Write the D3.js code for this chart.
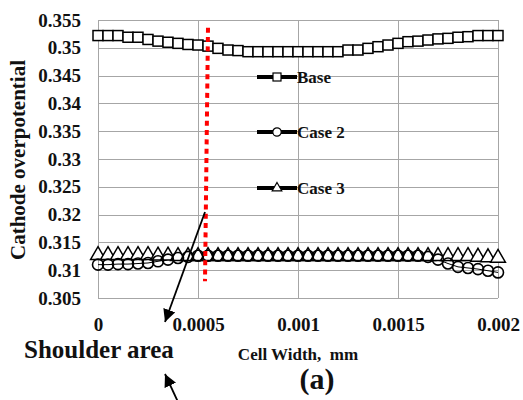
<!DOCTYPE html>
<html>
<head>
<meta charset="utf-8">
<script src="https://cdn.jsdelivr.net/npm/d3@7"></script>
<style>
  body { margin: 0; background: #fff; }
  svg { display: block; }
  text { font-family: "Liberation Serif", "Times New Roman", serif; font-weight: bold; fill: #111; }
</style>
</head>
<body>
<div id="chart"></div>
<script>
var width = 523;
var height = 400;
var margin = {top: 20, right: 25, bottom: 102, left: 98};
var serif = "'Liberation Serif', 'Times New Roman', serif";

// cell width positions, mm
var cellWidth = [0, 0.00005, 0.0001, 0.00015, 0.0002, 0.00025, 0.0003, 0.00035, 0.0004, 0.00045,
  0.0005, 0.00055, 0.0006, 0.00065, 0.0007, 0.00075, 0.0008, 0.00085, 0.0009, 0.00095,
  0.001, 0.00105, 0.0011, 0.00115, 0.0012, 0.00125, 0.0013, 0.00135, 0.0014, 0.00145,
  0.0015, 0.00155, 0.0016, 0.00165, 0.0017, 0.00175, 0.0018, 0.00185, 0.0019, 0.00195, 0.002];

var base = [0.3522, 0.3522, 0.3522, 0.3519, 0.3519, 0.3515, 0.3512, 0.3510, 0.3508, 0.3506,
  0.3505, 0.3503, 0.3499, 0.3496, 0.3495, 0.3493, 0.3493, 0.3493, 0.3493, 0.3493,
  0.3493, 0.3493, 0.3493, 0.3493, 0.3493, 0.3496, 0.3496, 0.3499, 0.3502, 0.3505,
  0.3508, 0.3511, 0.3512, 0.3514, 0.3516, 0.3517, 0.3519, 0.3520, 0.3522, 0.3522, 0.3522];

var case2 = [0.3110, 0.3110, 0.3111, 0.3111, 0.3112, 0.3113, 0.3116, 0.3119, 0.3122, 0.3124,
  0.3126, 0.3126, 0.3126, 0.3126, 0.3126, 0.3126, 0.3126, 0.3126, 0.3126, 0.3126,
  0.3126, 0.3126, 0.3126, 0.3126, 0.3126, 0.3126, 0.3126, 0.3126, 0.3126, 0.3126,
  0.3126, 0.3126, 0.3126, 0.3124, 0.3119, 0.3112, 0.3106, 0.3104, 0.3102, 0.3099, 0.3096];

var case3 = [0.3127, 0.3127, 0.3127, 0.3127, 0.3127, 0.3127, 0.3126, 0.3126, 0.3125, 0.3125,
  0.3125, 0.3125, 0.3125, 0.3125, 0.3125, 0.3125, 0.3125, 0.3125, 0.3125, 0.3125,
  0.3125, 0.3125, 0.3125, 0.3125, 0.3125, 0.3125, 0.3125, 0.3125, 0.3125, 0.3125,
  0.3125, 0.3125, 0.3125, 0.3125, 0.3125, 0.3125, 0.3125, 0.3125, 0.3124, 0.3123, 0.3122];

var xTicks = [0, 0.0005, 0.001, 0.0015, 0.002];
var yTicks = [0.305, 0.31, 0.315, 0.32, 0.325, 0.33, 0.335, 0.34, 0.345, 0.35, 0.355];
var seriesNames = ["Base", "Case 2", "Case 3"];

// shoulder marker line (top / bottom), in data units
var shoulderX = [0.00055, 0.000535];
var shoulderY = [0.3536, 0.3080];

var svg = d3.select("#chart")
    .append("svg")
    .attr("width", width)
    .attr("height", height);

var w = width - margin.left - margin.right;
var h = height - margin.top - margin.bottom;

var g = svg.append("g").attr("transform", "translate(" + margin.left + "," + margin.top + ")");

var x = d3.scaleLinear().domain([0, 0.002]).range([0, w]);
var y = d3.scaleLinear().domain([0.305, 0.355]).range([h, 0]);

// grid
g.append("g")
  .selectAll("line")
  .data(yTicks)
  .enter().append("line")
    .attr("x1", 0).attr("x2", w)
    .attr("y1", function(d) { return Math.round(y(d)) + 0.5; })
    .attr("y2", function(d) { return Math.round(y(d)) + 0.5; })
    .attr("stroke", "#a6a6a6");

g.append("g")
  .selectAll("line")
  .data(xTicks)
  .enter().append("line")
    .attr("y1", 0).attr("y2", h)
    .attr("x1", function(d) { return Math.round(x(d)) + 0.5; })
    .attr("x2", function(d) { return Math.round(x(d)) + 0.5; })
    .attr("stroke", "#a6a6a6");

// axes (labels only)
var yAxis = g.append("g")
    .call(d3.axisLeft(y).tickValues(yTicks).tickSize(0).tickPadding(17).tickFormat(d3.format("")));
yAxis.attr("font-family", serif);
yAxis.select(".domain").remove();
yAxis.selectAll("text")
    .style("font-family", serif)
    .style("font-weight", "bold")
    .style("font-size", "19px")
    .attr("fill", "#111");

var xAxis = g.append("g")
    .attr("transform", "translate(0," + h + ")")
    .call(d3.axisBottom(x).tickValues(xTicks).tickSize(0).tickPadding(20).tickFormat(d3.format("")));
xAxis.attr("font-family", serif);
xAxis.select(".domain").remove();
xAxis.selectAll("text")
    .style("font-family", serif)
    .style("font-weight", "bold")
    .style("font-size", "19px")
    .attr("fill", "#111");

// series
var triangle = d3.symbol().type(d3.symbolTriangle).size(95);
var line = d3.line()
    .x(function(d, i) { return x(cellWidth[i]); })
    .y(function(d) { return y(d); });

[case3, case2, base].forEach(function(s) {
  g.append("path").datum(s)
    .attr("d", line)
    .attr("fill", "none")
    .attr("stroke", "#000")
    .attr("stroke-width", 1);
});

g.append("g").selectAll("path")
  .data(case3)
  .enter().append("path")
    .attr("d", triangle)
    .attr("transform", function(d, i) { return "translate(" + x(cellWidth[i]) + "," + y(d) + ")"; })
    .attr("fill", "#fff")
    .attr("stroke", "#000")
    .attr("stroke-width", 1.5);

g.append("g").selectAll("circle")
  .data(case2)
  .enter().append("circle")
    .attr("cx", function(d, i) { return x(cellWidth[i]); })
    .attr("cy", function(d) { return y(d); })
    .attr("r", 5.5)
    .attr("fill", "none")
    .attr("stroke", "#000")
    .attr("stroke-width", 1.6);

g.append("g").selectAll("rect")
  .data(base)
  .enter().append("rect")
    .attr("x", function(d, i) { return x(cellWidth[i]) - 5; })
    .attr("y", function(d) { return y(d) - 5; })
    .attr("width", 10)
    .attr("height", 10)
    .attr("fill", "#fff")
    .attr("stroke", "#000")
    .attr("stroke-width", 1.5);

// red shoulder line
g.append("line")
  .attr("x1", x(shoulderX[0])).attr("y1", y(shoulderY[0]))
  .attr("x2", x(shoulderX[1])).attr("y2", y(shoulderY[1]))
  .attr("stroke", "#ff0000")
  .attr("stroke-width", 4)
  .attr("stroke-dasharray", "5,4.3");

// legend
var legendY = [77, 132, 188];
var legend = svg.append("g").selectAll("g")
  .data(seriesNames)
  .enter().append("g")
    .attr("transform", function(d, i) { return "translate(0," + legendY[i] + ")"; });

legend.append("line")
  .attr("x1", 257).attr("x2", 297)
  .attr("stroke", "#000")
  .attr("stroke-width", 4);

legend.each(function(d, i) {
  var el = d3.select(this);
  if (i == 0) {
    el.append("rect").attr("x", 273).attr("y", -4).attr("width", 8).attr("height", 8)
      .attr("fill", "#fff").attr("stroke", "#000").attr("stroke-width", 1.2);
  } else if (i == 1) {
    el.append("circle").attr("cx", 277).attr("r", 4.2)
      .attr("fill", "#fff").attr("stroke", "#000").attr("stroke-width", 1.2);
  } else {
    el.append("path").attr("d", d3.symbol().type(d3.symbolTriangle).size(40))
      .attr("transform", "translate(277,0)")
      .attr("fill", "#fff").attr("stroke", "#000").attr("stroke-width", 1.2);
  }
});

legend.append("text")
  .attr("x", 297)
  .attr("dy", "0.35em")
  .style("font-size", "17px")
  .text(function(d) { return d; });

// axis titles
svg.append("text")
  .attr("transform", "translate(25,160) rotate(-90)")
  .attr("text-anchor", "middle")
  .style("font-size", "21px")
  .text("Cathode overpotential");

svg.append("text")
  .attr("x", 298)
  .attr("y", 360)
  .attr("text-anchor", "middle")
  .style("font-size", "17px")
  .style("white-space", "pre")
  .text("Cell Width,  mm");

svg.append("text")
  .attr("x", 24)
  .attr("y", 358)
  .style("font-size", "25px")
  .text("Shoulder area");

svg.append("text")
  .attr("x", 317)
  .attr("y", 389)
  .attr("text-anchor", "middle")
  .style("font-size", "30px")
  .text("(a)");

// arrows
var defs = svg.append("defs");
defs.append("marker")
  .attr("id", "arrow")
  .attr("viewBox", "0 0 10 10")
  .attr("refX", 10).attr("refY", 5)
  .attr("markerWidth", 7).attr("markerHeight", 7)
  .attr("markerUnits", "strokeWidth")
  .attr("orient", "auto")
  .append("path")
    .attr("d", "M0,0 L10,5 L0,10 z")
    .attr("fill", "#000");

svg.append("line")
  .attr("x1", 205).attr("y1", 212)
  .attr("x2", 165).attr("y2", 322)
  .attr("stroke", "#000").attr("stroke-width", 1.8)
  .attr("marker-end", "url(#arrow)");

svg.append("line")
  .attr("x1", 178).attr("y1", 402)
  .attr("x2", 165).attr("y2", 374)
  .attr("stroke", "#000").attr("stroke-width", 1.8)
  .attr("marker-end", "url(#arrow)");
</script>
</body>
</html>
